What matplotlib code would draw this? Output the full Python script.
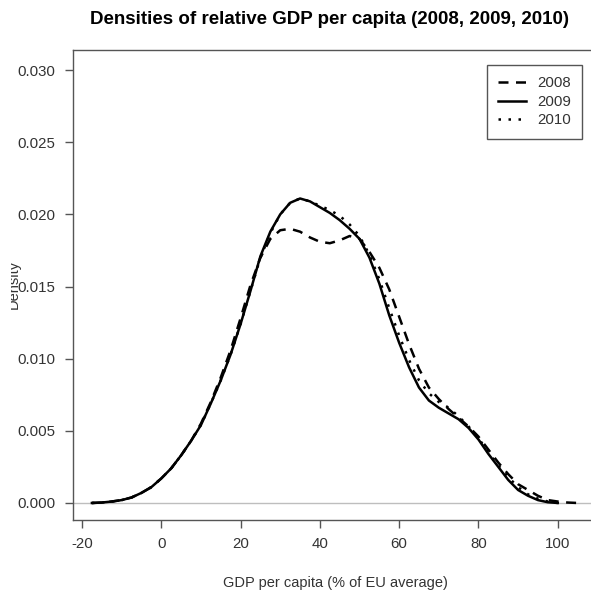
import matplotlib.pyplot as plt
import numpy as np
from matplotlib.patches import Rectangle
from matplotlib.lines import Line2D

plt.rcParams['font.family'] = ['Liberation Sans', 'DejaVu Sans']

# GDP per capita grid (% of EU average) and densities
gdp = [-17.5, -15, -12.5, -10, -7.5, -5, -2.5, 0, 2.5, 5, 7.5, 10, 12.5, 15,
       17.5, 20, 22.5, 25, 27.5, 30, 32.5, 35, 37.5, 40, 42.5, 45, 47.5, 50,
       52.5, 55, 57.5, 60, 62.5, 65, 67.5, 70, 72.5, 75, 77.5, 80, 82.5, 85,
       87.5, 90, 92.5, 95, 97.5, 100, 102.5, 105]

dens_2008 = [0, 0.00003, 0.0001, 0.0002, 0.00038, 0.0007, 0.0011, 0.0017, 0.0024,
             0.0033, 0.0043, 0.0055, 0.0070, 0.0087, 0.0106, 0.0128, 0.0151, 0.0170,
             0.0183, 0.0189, 0.0190, 0.0188, 0.0184, 0.0181, 0.0180, 0.0182, 0.0185,
             0.0183, 0.0174, 0.0163, 0.0148, 0.0129, 0.0110, 0.0093, 0.0080, 0.0072,
             0.0065, 0.0059, 0.0053, 0.0046, 0.0037, 0.0028, 0.0020, 0.0013, 0.0009,
             0.0005, 0.0002, 0.0001, 0.00003, 0]

dens_2009 = [0, 0.00003, 0.0001, 0.0002, 0.00038, 0.0007, 0.0011, 0.0017, 0.0024,
             0.0033, 0.0043, 0.0054, 0.0069, 0.0085, 0.0103, 0.0124, 0.0147, 0.0171,
             0.0188, 0.0200, 0.0208, 0.0211, 0.0209, 0.0205, 0.0201, 0.0196, 0.0190,
             0.0183, 0.0170, 0.0152, 0.0130, 0.0111, 0.0094, 0.0080, 0.0071, 0.0066,
             0.0062, 0.0058, 0.0052, 0.0044, 0.0034, 0.0025, 0.0016, 0.0009, 0.0005,
             0.0002, 0.00005, 0, np.nan, np.nan]

dens_2010 = [0, 0.00003, 0.0001, 0.0002, 0.00038, 0.0007, 0.0011, 0.0017, 0.0024,
             0.0033, 0.0043, 0.0054, 0.0069, 0.0085, 0.0103, 0.0124, 0.0147, 0.0170,
             0.0187, 0.0200, 0.0208, 0.0211, 0.0209, 0.0206, 0.0203, 0.0199, 0.0193,
             0.0185, 0.0172, 0.0155, 0.0135, 0.0116, 0.0099, 0.0085, 0.0076, 0.0070,
             0.0066, 0.0060, 0.0053, 0.0045, 0.0035, 0.0026, 0.0018, 0.0011, 0.0006,
             0.0003, 0.0001, 0, np.nan, np.nan]

years = ['2008', '2009', '2010']
xticks = [-20, 0, 20, 40, 60, 80, 100]
yticks = [0.0, 0.005, 0.010, 0.015, 0.020, 0.025, 0.030]

W, H = 591, 597
fig = plt.figure(figsize=(W / 100, H / 100), dpi=100)
# axes box runs off the right edge of the picture, as in the original
ax = fig.add_axes([73 / W, 77 / H, 524 / W, 470 / H])

grey_txt = '#333333'
axcol = '#555555'

ax.axhline(0, color='#bebebe', lw=1, zorder=1)

styles = [dict(dashes=(4, 3)), dict(), dict(dashes=(1, 3))]
for dens, st in zip([dens_2008, dens_2009, dens_2010], styles):
    ax.plot(gdp, dens, color='black', lw=1.8, solid_joinstyle='round', **st)

ax.set_xlim(-22.27, 109.9)
ax.set_ylim(-0.00118, 0.03139)
ax.set_xticks(xticks)
ax.set_xticklabels([str(t) for t in xticks])
ax.set_yticks(yticks)
ax.set_yticklabels(['%.3f' % t for t in yticks])
ax.tick_params(direction='out', length=5.5, width=1, color=axcol,
               labelcolor=grey_txt, labelsize=10.8, pad=7)
for s in ax.spines.values():
    s.set_color(axcol)
    s.set_linewidth(1)

ax.set_xlabel('GDP per capita (% of EU average)', fontsize=10.5,
              color=grey_txt, labelpad=18)

fig.text(329 / W, 1 - 19 / H, 'Densities of relative GDP per capita (2008, 2009, 2010)',
         ha='center', va='center', fontsize=13.5, fontweight='bold', color='black')

# y label, partly hidden as in the reference
yl = fig.text(14 / W, 1 - 284 / H, 'Density', rotation=90, ha='center', va='center',
              fontsize=10.5, color=grey_txt)
yl.set_clip_path(Rectangle((11 / W, 0), 1, 1, transform=fig.transFigure))

handles = [Line2D([], [], color='black', lw=1.8, **st) for st in styles]
leg = ax.legend(handles, years, loc='upper right',
                bbox_to_anchor=(582 / W, 1 - 65 / H), bbox_transform=fig.transFigure,
                borderaxespad=0, fancybox=False, framealpha=1, fontsize=10.8,
                handlelength=1.9, handletextpad=0.7, labelspacing=0.3,
                borderpad=0.75)
leg.get_frame().set_edgecolor(axcol)
leg.get_frame().set_linewidth(1)
for t in leg.get_texts():
    t.set_color(grey_txt)

fig.savefig('out.png', dpi=100)
